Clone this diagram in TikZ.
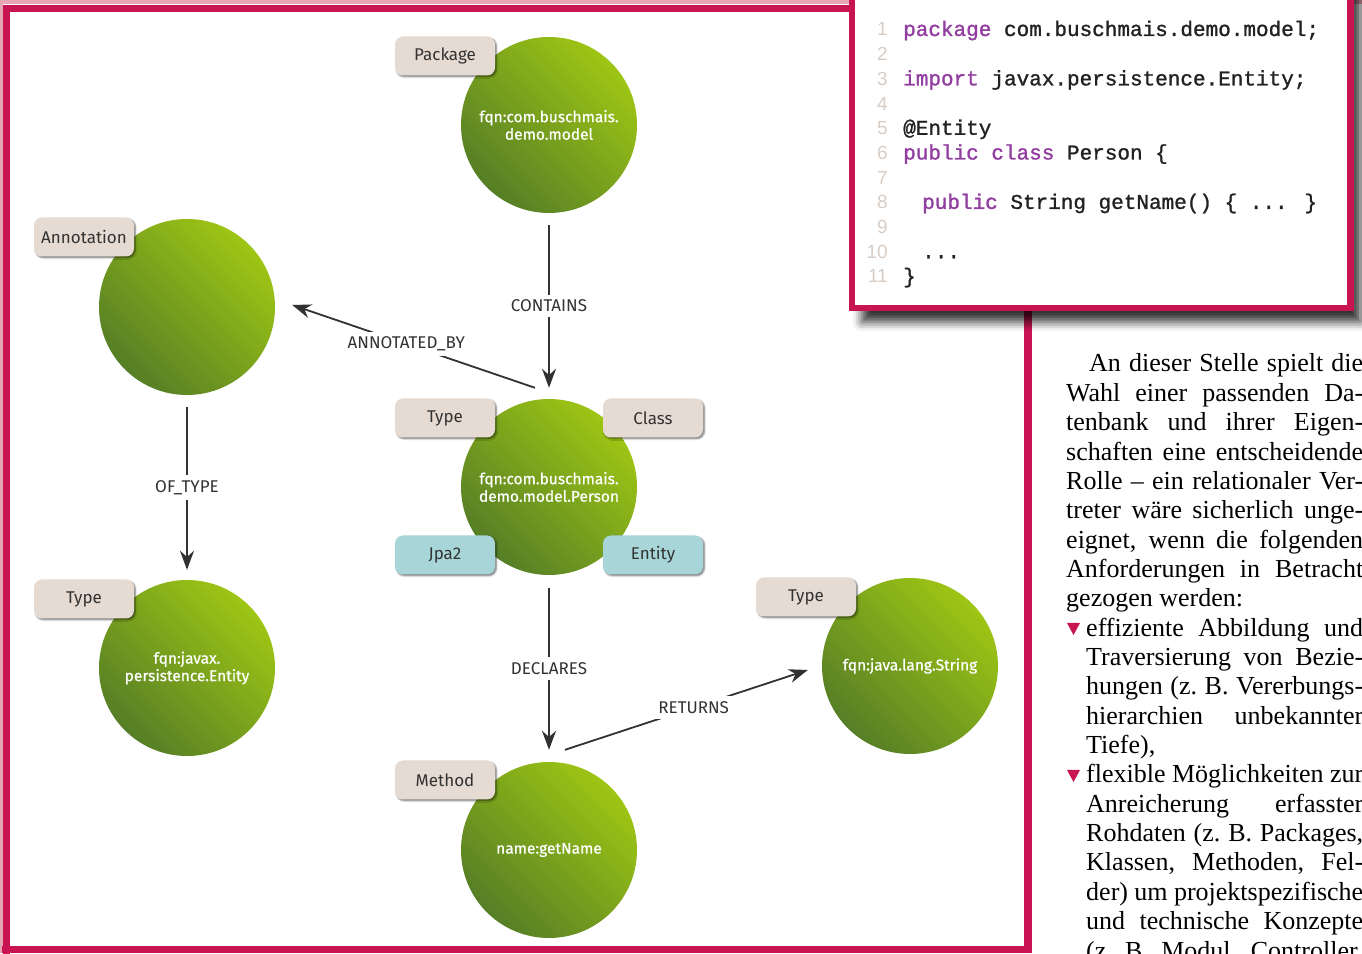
\documentclass[tikz,border=0pt]{standalone}
\usepackage{fontspec}
\setmainfont{Liberation Serif}
\newfontfamily\gfont{Fira Sans}
\newfontfamily\cfont[FakeBold=0.7]{Fira Sans}
\newfontfamily\codefont[FakeBold=1.2]{Liberation Mono}
\newfontfamily\numfont{Liberation Sans}
\usetikzlibrary{arrows.meta,shadows.blur}

\definecolor{framec}{RGB}{200,20,82}
\definecolor{pinkstrip}{RGB}{230,165,178}
\definecolor{gdark}{RGB}{86,126,38}
\definecolor{glight}{RGB}{158,198,20}
\definecolor{tagbeige}{RGB}{230,219,210}
\definecolor{tagteal}{RGB}{168,214,216}
\definecolor{edgegray}{RGB}{50,50,50}
\definecolor{kw}{RGB}{145,62,160}
\definecolor{lnum}{RGB}{216,205,196}
\definecolor{codetxt}{RGB}{34,34,34}

\tikzset{
  gnode/.style={circle, minimum size=176pt, inner sep=0pt,
    top color=glight, bottom color=gdark, shading angle=-45,
    text=white, align=center, font=\cfont\fontsize{15.5}{17.5}\selectfont},
  tagbox/.style={rounded corners=8pt, minimum width=100pt, minimum height=39pt,
    inner sep=0pt, fill=tagbeige, text=edgegray,
    font=\gfont\fontsize{17}{20}\selectfont,
    blur shadow={shadow xshift=1.5pt, shadow yshift=-1.5pt, shadow blur radius=1.5pt, shadow opacity=50}},
  tealtag/.style={tagbox, fill=tagteal},
  rel/.style={draw=edgegray, line width=1.8pt, -{Stealth[length=19pt,width=14pt]}},
  elabel/.style={fill=white, text=edgegray, inner sep=5pt,
    font=\gfont\fontsize{17}{20}\selectfont},
  codeline/.style={anchor=base west, inner sep=0pt, text=codetxt,
    font=\codefont\fontsize{21}{24}\selectfont},
  lnumber/.style={anchor=base east, inner sep=0pt, text=lnum,
    font=\numfont\fontsize{19}{22}\selectfont},
  bodyline/.style={anchor=base west, inner sep=0pt, text=black,
    font=\fontsize{26}{29}\selectfont},
  bullettri/.style={fill=framec}
}

\begin{document}
\begin{tikzpicture}[x=1pt,y=1pt]
\useasboundingbox (0,0) rectangle (1362,953);

% outer pink strips
\fill[pinkstrip] (0,949) rectangle (1362,953);
\fill[pinkstrip] (0,0) rectangle (3,953);

% page frame
\draw[framec, line width=7.5pt] (6.5,-10) -- (6.5,944.7) -- (860,944.7);
\draw[framec, line width=7.5pt] (2,3.5) -- (1028,3.5) -- (1028,650);

% code box
\draw[framec, line width=6.5pt, fill=white,
  blur shadow={shadow xshift=10pt, shadow yshift=-14pt, shadow blur radius=9pt, shadow opacity=80}]
  (852,645) rectangle (1350.5,975);

% code lines
\node[lnumber] (n1) at (888,917) {1};
\node[lnumber] (n2) at (888,892.3) {2};
\node[lnumber] (n3) at (888,867.6) {3};
\node[lnumber] (n4) at (888,842.9) {4};
\node[lnumber] (n5) at (888,818.2) {5};
\node[lnumber] (n6) at (888,793.5) {6};
\node[lnumber] (n7) at (888,768.8) {7};
\node[lnumber] (n8) at (888,744.1) {8};
\node[lnumber] (n9) at (888,719.4) {9};
\node[lnumber] (n10) at (888,694.7) {10};
\node[lnumber] (n11) at (888,670) {11};

\node[codeline] (c1) at (903,917) {\textcolor{kw}{package} com.buschmais.demo.model;};
\node[codeline] (c3) at (903,867.6) {\textcolor{kw}{import} javax.persistence.Entity;};
\node[codeline] (c5) at (903,818.2) {@Entity};
\node[codeline] (c6) at (903,793.5) {\textcolor{kw}{public class} Person \{};
\node[codeline] (c8) at (922,744.1) {\textcolor{kw}{public} String getName() \{ ... \}};
\node[codeline] (c10) at (922,694.7) {...};
\node[codeline] (c11) at (903,670) {\}};

% graph nodes
\node[gnode] (pkg) at (549,828) {fqn:com.buschmais.\\demo.model};
\node[gnode] (ann) at (187,646) {};
\node[gnode] (per) at (549,466) {fqn:com.buschmais.\\demo.model.Person};
\node[gnode] (jav) at (187,285) {fqn:javax.\\persistence.Entity};
\node[gnode] (str) at (910,287) {fqn:java.lang.String};
\node[gnode] (met) at (549,103) {name:getName};

% labels
\node[tagbox] (tpkg) at (445,897) {Package};
\node[tagbox] (tann) at (84,716) {Annotation};
\node[tagbox] (tper) at (445,535) {Type};
\node[tagbox] (tcls) at (653,535) {Class};
\node[tealtag] (tjpa) at (445,398) {Jpa2};
\node[tealtag] (tent) at (653,398) {Entity};
\node[tagbox] (tjav) at (84,354) {Type};
\node[tagbox] (tstr) at (806,356) {Type};
\node[tagbox] (tmet) at (445,173) {Method};

% relationships
\draw[rel, shorten <=12pt, shorten >=11pt] (pkg) -- node[elabel] (lcont) {CONTAINS} (per);
\draw[rel] ([xshift=-14pt,yshift=11pt]per.north) -- node[elabel, pos=0.53] (lann) {ANNOTATED\_BY} ([xshift=17pt,yshift=2pt]ann.east);
\draw[rel, shorten <=12pt, shorten >=10pt] (ann) -- node[elabel] (ltype) {OF\_TYPE} (jav);
\draw[rel, shorten <=13pt, shorten >=12pt] (per) -- node[elabel] (ldecl) {DECLARES} (met);
\draw[rel] ([xshift=16pt,yshift=12pt]met.north) -- node[elabel, pos=0.53] (lret) {RETURNS} ([xshift=-14pt,yshift=-4pt]str.west);

% body text
\node[bodyline] (b1) at (1089,581) {\makebox[274pt][s]{An dieser Stelle spielt die}};
\node[bodyline] (b2) at (1066,551.65) {\makebox[297pt][s]{Wahl einer passenden Da-}};
\node[bodyline] (b3) at (1066,522.3) {\makebox[297pt][s]{tenbank und ihrer Eigen-}};
\node[bodyline] (b4) at (1066,492.95) {\makebox[297pt][s]{schaften eine entscheidende}};
\node[bodyline] (b5) at (1066,463.6) {\makebox[297pt][s]{Rolle -- ein relationaler Ver-}};
\node[bodyline] (b6) at (1066,434.25) {\makebox[297pt][s]{treter wäre sicherlich unge-}};
\node[bodyline] (b7) at (1066,404.9) {\makebox[297pt][s]{eignet, wenn die folgenden}};
\node[bodyline] (b8) at (1066,375.55) {\makebox[297pt][s]{Anforderungen in Betracht}};
\node[bodyline] (b9) at (1066,346.2) {gezogen werden:};
\fill[bullettri] (1067,330) -- (1080,330) -- (1073.5,318) -- cycle;
\node[bodyline] (b10) at (1086,316.85) {\makebox[277pt][s]{effiziente Abbildung und}};
\node[bodyline] (b11) at (1086,287.5) {\makebox[277pt][s]{Traversierung von Bezie-}};
\node[bodyline] (b12) at (1086,258.15) {\makebox[277pt][s]{hungen (z.~B. Vererbungs-}};
\node[bodyline] (b13) at (1086,228.8) {\makebox[277pt][s]{hierarchien unbekannter}};
\node[bodyline] (b14) at (1086,199.45) {Tiefe),};
\fill[bullettri] (1067,183) -- (1080,183) -- (1073.5,171) -- cycle;
\node[bodyline] (b15) at (1086,170.1) {\makebox[277pt][s]{flexible Möglichkeiten zur}};
\node[bodyline] (b16) at (1086,140.75) {\makebox[277pt][s]{Anreicherung erfasster}};
\node[bodyline] (b17) at (1086,111.4) {\makebox[277pt][s]{Rohdaten (z.~B. Packages,}};
\node[bodyline] (b18) at (1086,82.05) {\makebox[277pt][s]{Klassen, Methoden, Fel-}};
\node[bodyline] (b19) at (1086,52.7) {\makebox[277pt][s]{der) um projektspezifische}};
\node[bodyline] (b20) at (1086,23.35) {\makebox[277pt][s]{und technische Konzepte}};
\node[bodyline] (b21) at (1086,-6) {\makebox[277pt][s]{(z.~B. Modul, Controller,}};
\end{tikzpicture}
\end{document}
